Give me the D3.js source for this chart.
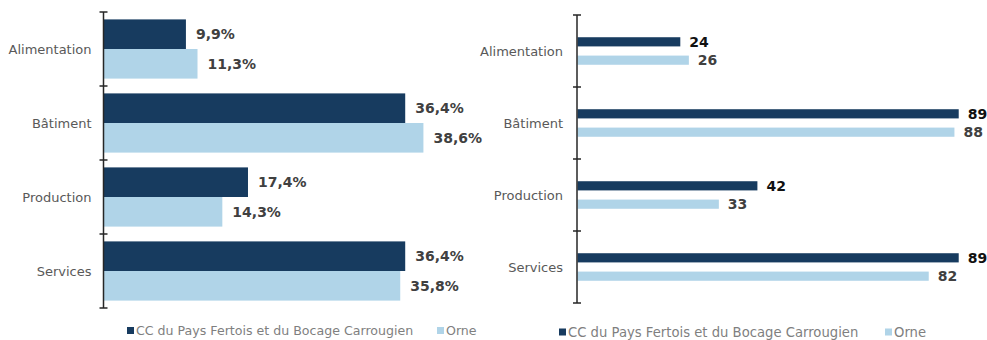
<!DOCTYPE html>
<html>
<head>
<meta charset="utf-8">
<script src="https://cdn.jsdelivr.net/npm/d3@7"></script>
<style>
  html, body { margin: 0; padding: 0; background: #fff; }
  svg { display: block; font-family: "DejaVu Sans", sans-serif; }
</style>
</head>
<body>
<svg id="chart" width="987" height="340"></svg>
<script>
// Secteurs d'activité
const categories = ["Alimentation", "Bâtiment", "Production", "Services"];
const seriesNames = ["CC du Pays Fertois et du Bocage Carrougien", "Orne"];

// Répartition en pourcentage
const shareCC = [9.9, 36.4, 17.4, 36.4];
const shareOrne = [11.3, 38.6, 14.3, 35.8];

// Indice (base) par secteur
const indexCC = [24, 89, 42, 89];
const indexOrne = [26, 88, 33, 82];

const colors = ["#173b5f", "#b0d4e8"];
const fmtPct = d => d3.format(".1f")(d).replace(".", ",") + "%";
const fmtInt = d => d3.format("d")(d);

const svg = d3.select("#chart");

function drawPanel(opts) {
  const g = svg.append("g");
  const y = d3.scaleBand()
    .domain(categories)
    .range([opts.top, opts.bottom])
    .paddingInner(opts.padInner)
    .paddingOuter(opts.padOuter);
  const ySub = d3.scaleBand()
    .domain([0, 1])
    .range([0, y.bandwidth()])
    .paddingInner(opts.subInner)
    .paddingOuter(opts.subOuter);
  const x = d3.scaleLinear().domain(opts.xDomain).range([opts.axisX + 0.5, opts.xMax]);

  const rows = [];
  categories.forEach((c, i) => {
    opts.series.forEach((s, k) => rows.push({ cat: c, k, v: s[i] }));
  });

  g.selectAll("rect.bar").data(rows).join("rect")
    .attr("class", "bar")
    .attr("x", x(0))
    .attr("y", d => y(d.cat) + ySub(d.k))
    .attr("width", d => x(d.v) - x(0))
    .attr("height", ySub.bandwidth())
    .attr("fill", d => colors[d.k]);

  g.selectAll("text.val").data(rows).join("text")
    .attr("class", "val")
    .attr("x", d => x(d.v) + opts.labelGap)
    .attr("y", d => y(d.cat) + ySub(d.k) + ySub.bandwidth() / 2)
    .attr("dy", "0.36em")
    .attr("font-size", opts.valSize)
    .attr("font-weight", "bold")
    .attr("fill", d => opts.valColors[d.k])
    .text(d => opts.fmt(d.v));

  // Axe vertical avec graduations entre catégories
  const bounds = d3.scaleLinear().domain([0, categories.length]).range([opts.top, opts.bottom]);
  g.append("line")
    .attr("x1", opts.axisX).attr("x2", opts.axisX)
    .attr("y1", opts.top).attr("y2", opts.bottom)
    .attr("stroke", "#262626").attr("stroke-width", 1.5);
  g.selectAll("line.tick").data(d3.range(categories.length + 1)).join("line")
    .attr("class", "tick")
    .attr("x1", opts.axisX - 4).attr("x2", opts.axisX + 4)
    .attr("y1", d => bounds(d)).attr("y2", d => bounds(d))
    .attr("stroke", "#262626").attr("stroke-width", 1.5);

  g.selectAll("text.cat").data(categories).join("text")
    .attr("class", "cat")
    .attr("x", opts.axisX - opts.catGap)
    .attr("y", d => y(d) + y.bandwidth() / 2)
    .attr("dy", "0.36em")
    .attr("text-anchor", "end")
    .attr("font-size", 13)
    .attr("fill", "#595959")
    .text(d => d);

  // Légende
  const lg = g.append("g");
  opts.legend.forEach((L, k) => {
    lg.append("rect")
      .attr("x", L.x).attr("y", opts.legendY - 8)
      .attr("width", 7).attr("height", 7)
      .attr("fill", colors[k]);
    lg.append("text")
      .attr("x", L.x + 9).attr("y", opts.legendY)
      .attr("font-size", opts.legendSize)
      .attr("fill", "#7f7f7f")
      .text(seriesNames[k]);
  });
}

drawPanel({
  series: [shareCC, shareOrne],
  top: 12, bottom: 308, axisX: 103.5,
  padInner: 0.2, padOuter: 0.1, subInner: 0, subOuter: 0,
  xDomain: [0, 40], xMax: 435,
  labelGap: 10, valSize: 14, valColors: ["#404040", "#404040"],
  fmt: fmtPct, catGap: 12,
  legend: [{ x: 127 }, { x: 437 }], legendY: 335, legendSize: 12.6
});

drawPanel({
  series: [indexCC, indexOrne],
  top: 15, bottom: 303, axisX: 577,
  padInner: 0.49, padOuter: 0.245, subInner: 0.5, subOuter: 0.25,
  xDomain: [0, 90], xMax: 963,
  labelGap: 9, valSize: 14, valColors: ["#111111", "#404040"],
  fmt: fmtInt, catGap: 14,
  legend: [{ x: 559 }, { x: 885 }], legendY: 336.5, legendSize: 13.2
});
</script>
</body>
</html>
